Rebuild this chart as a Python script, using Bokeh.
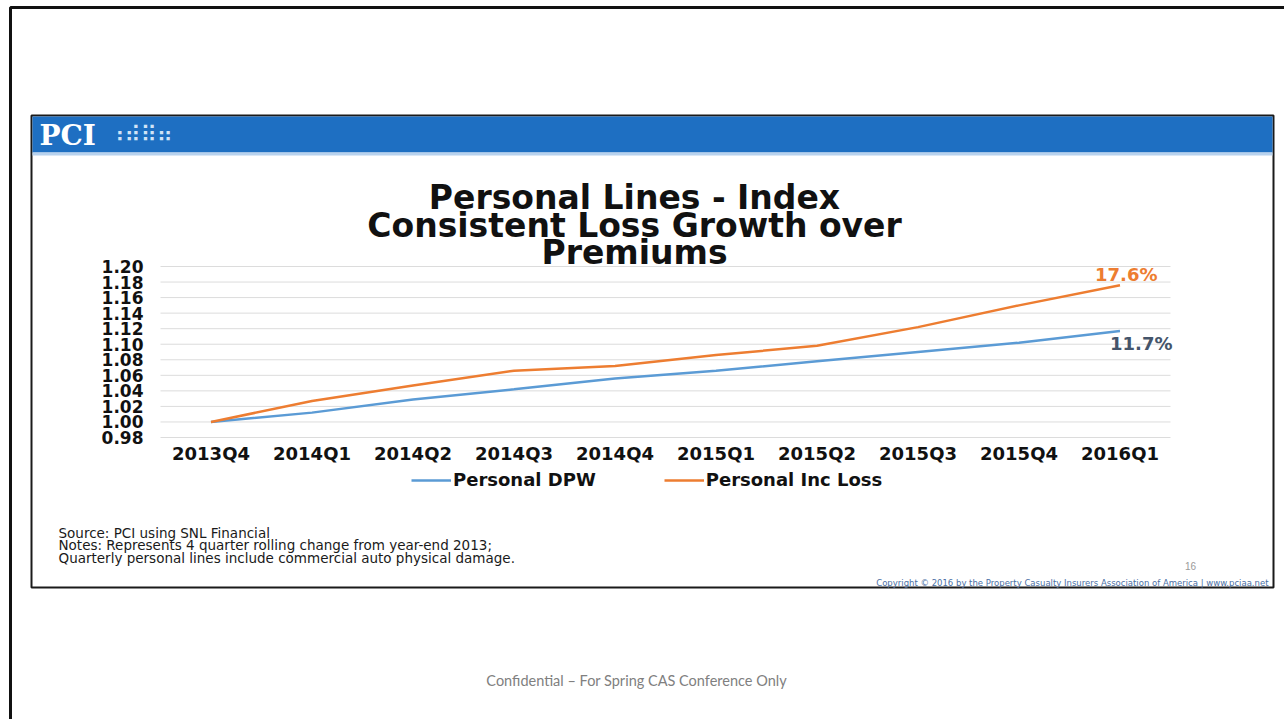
from bokeh.plotting import figure
from bokeh.models import Range1d, Label, BoxAnnotation, Legend, LegendItem, ColumnDataSource
from bokeh.core.properties import value
from bokeh.embed import file_html
from bokeh.resources import INLINE

# ---------------- data ----------------
quarters = ["2013Q4", "2014Q1", "2014Q2", "2014Q3", "2014Q4",
            "2015Q1", "2015Q2", "2015Q3", "2015Q4", "2016Q1"]
personal_dpw = [1.000, 1.012, 1.029, 1.042, 1.056, 1.066, 1.078, 1.090, 1.102, 1.117]
personal_inc_loss = [1.000, 1.027, 1.047, 1.066, 1.072, 1.086, 1.098, 1.122, 1.150, 1.176]
y_ticks = [0.98, 1.00, 1.02, 1.04, 1.06, 1.08, 1.10, 1.12, 1.14, 1.16, 1.18, 1.20]
series_names = ["Personal DPW", "Personal Inc Loss"]
title_lines = ["Personal Lines - Index", "Consistent Loss Growth over", "Premiums"]
note_lines = ["Source: PCI using SNL Financial",
              "Notes: Represents 4 quarter rolling change from year-end 2013;",
              "Quarterly personal lines include commercial auto physical damage."]
logo_text = "PCI"
page_number = "16"
copyright_text = "Copyright \u00a9 2016 by the Property Casualty Insurers Association of America | www.pciaa.net"
footer_text = "Confidential \u2013 For Spring CAS Conference  Only"

# ---------------- layout constants (canvas pixels) ----------------
W, H = 1284, 719
FL, FR, FT, FB = 160, 1170, 266, 437   # chart plotting area

BLUE = "#5b9bd5"
ORANGE = "#ed7d31"
BOLD_FONT = "DejaVu Sans"

n = len(quarters)
xpos = list(range(n))                       # category index of each quarter
step = (FR - FL) / n                        # pixels per category
x_start = -0.5 - FL / step
x_end = x_start + W / step
ypx = (FB - FT) / (y_ticks[-1] - y_ticks[0])  # pixels per index unit
y_top = y_ticks[-1] + FT / ypx
y_bottom = y_ticks[0] - (H - FB) / ypx

p = figure(width=W, height=H,
           x_range=Range1d(x_start, x_end), y_range=Range1d(y_bottom, y_top),
           x_axis_type=None, y_axis_type=None,
           output_backend="svg", toolbar_location=None, min_border=0)
p.outline_line_color = None
p.background_fill_color = "white"
p.border_fill_color = "white"
p.grid.visible = False


# ---------------- decorations (screen units = canvas px, y from bottom) ----------------
def box(l, t, r, b, **kw):
    p.add_layout(BoxAnnotation(left=l, right=r, top=H - t, bottom=H - b,
                               left_units="screen", right_units="screen",
                               top_units="screen", bottom_units="screen", **kw))


def label(text, cx, cy, **kw):
    p.add_layout(Label(x=cx, y=H - cy, x_units="screen", y_units="screen",
                       text=text, **kw))


# outer page frame
box(10, 7, 1300, 740, fill_alpha=0, line_color="#111111", line_alpha=1, line_width=3,
    level="underlay")
# slide frame
box(31, 115, 1273, 587, fill_alpha=0, line_color="#1a1a1a", line_alpha=1, line_width=2,
    level="underlay")
# blue header band
box(32, 116, 1272, 152, fill_color="#1e6fc2", fill_alpha=1, line_color=None, level="underlay")
box(32, 152, 1272, 155, fill_color="#b8d2ee", fill_alpha=1, line_color=None, level="underlay")

# ---------------- chart ----------------
# horizontal gridlines across the category band
p.segment(x0=[-0.5] * len(y_ticks), x1=[n - 0.5] * len(y_ticks), y0=y_ticks, y1=y_ticks,
          line_color="#dcdcdc", line_width=1)

# y tick labels
p.text(x=[-0.5] * len(y_ticks), y=y_ticks, text=[f"{t:.2f}" for t in y_ticks],
       x_offset=-17, text_align="right", text_baseline="middle",
       text_font=value(BOLD_FONT), text_font_style="bold", text_font_size="17px",
       text_color="#111111")
# x tick labels
p.text(x=xpos, y=[y_ticks[0]] * n, text=quarters,
       y_offset=5, text_align="center", text_baseline="top",
       text_font=value(BOLD_FONT), text_font_style="bold", text_font_size="18px",
       text_color="#111111")

src = ColumnDataSource(dict(x=xpos, dpw=personal_dpw, loss=personal_inc_loss))
r_dpw = p.line("x", "dpw", source=src, line_color=BLUE, line_width=2.5)
r_loss = p.line("x", "loss", source=src, line_color=ORANGE, line_width=2.5)

# end-of-line labels
p.text(x=[xpos[-1]], y=[personal_inc_loss[-1]],
       text=[f"{(personal_inc_loss[-1] - 1) * 100:.1f}%"],
       x_offset=-25, y_offset=-11, text_align="left", text_baseline="middle",
       text_font=value(BOLD_FONT), text_font_style="bold", text_font_size="18px",
       text_color=ORANGE)
p.text(x=[xpos[-1]], y=[personal_dpw[-1]],
       text=[f"{(personal_dpw[-1] - 1) * 100:.1f}%"],
       x_offset=-10, y_offset=12, text_align="left", text_baseline="middle",
       text_font=value(BOLD_FONT), text_font_style="bold", text_font_size="18px",
       text_color="#44546a")

legend = Legend(items=[LegendItem(label=series_names[0], renderers=[r_dpw]),
                       LegendItem(label=series_names[1], renderers=[r_loss])],
                orientation="horizontal", location=(411, H - 490),
                glyph_width=40, glyph_height=20, label_standoff=2, spacing=68,
                padding=0, margin=0, border_line_color=None, background_fill_alpha=0,
                label_text_font=BOLD_FONT, label_text_font_style="bold",
                label_text_font_size="18px", label_text_color="#111111",
                label_text_baseline="middle")
p.add_layout(legend)

# ---------------- texts ----------------
label(logo_text, 39, 135, text_font="DejaVu Serif", text_font_style="bold",
      text_font_size="28px", text_color="white", text_baseline="middle")
label("\u2830\u283e\u283f\u2836", 108, 134, text_font="DejaVu Sans", text_font_size="22px",
      text_color="#d2e3f6", text_baseline="middle")

for i, t in enumerate(title_lines):
    label(t, 634, 197 + 27.5 * i, text_font=BOLD_FONT, text_font_style="bold",
          text_font_size="33px", text_color="#111111", text_align="center",
          text_baseline="middle")

for i, t in enumerate(note_lines):
    label(t, 58, 532 + 12.5 * i, text_font="DejaVu Sans", text_font_size="13.5px",
          text_color="#1a1a1a", text_baseline="middle")

label(page_number, 1190, 565, text_font="Liberation Sans", text_font_size="10px",
      text_color="#9a9a9a", text_baseline="middle", text_align="center")
label(copyright_text, 1268, 582, text_font="DejaVu Sans", text_font_size="8.5px",
      text_color="#4a6fa5", text_baseline="middle", text_align="right")
label(footer_text, 638, 680, text_font="Lato", text_font_size="14.5px",
      text_color="#808080", text_baseline="middle", text_align="center")

open("out.html", "w").write(file_html(p, INLINE))
